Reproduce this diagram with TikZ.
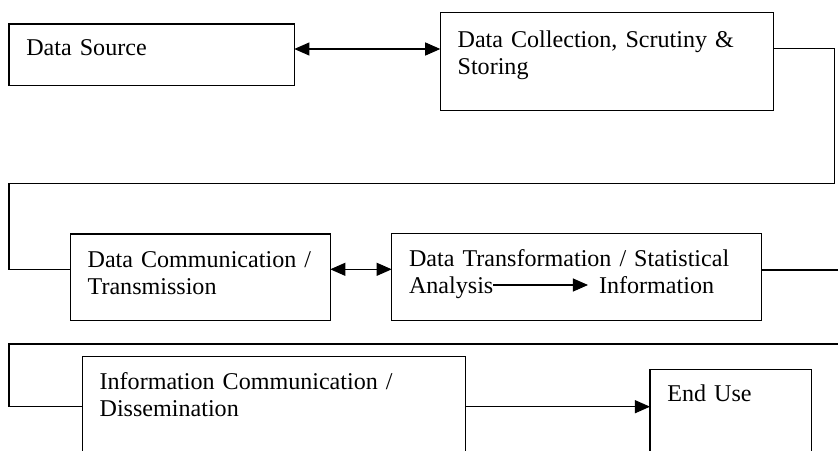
\documentclass[tikz,border=0pt]{standalone}
\usepackage{fontspec}
\setmainfont{Liberation Serif}
\usepackage{tikz}
\usetikzlibrary{arrows.meta}

\tikzset{
  blk/.style={draw, line width=0.5pt, anchor=north west, align=left,
              inner xsep=8.5pt, inner ysep=0pt, outer sep=0pt},
  wire/.style={line width=0.5pt},
}

\begin{document}
\begin{tikzpicture}[x=0.49pt, y=-0.49pt, font=\fontsize{11.8}{13.2}\selectfont,
                    >={Triangle[length=7.4pt, width=6.4pt]}]
  \path[use as bounding box, clip] (0,0) rectangle (838,450);

  % first row
  \node[blk, text width=122.8pt, text height=15.3pt, text depth=14.9pt]
    (src) at (9,24) {Data Source};
  \node[blk, text width=146.5pt, text height=17.4pt, text depth=30.8pt]
    (coll) at (440.3,12.3) {\mbox{Data Collection, Scrutiny \&}\\ Storing};

  % second row
  \node[blk, text width=110.4pt, text height=16.3pt, text depth=25.9pt]
    (comm) at (70.3,234) {\mbox{Data Communication /}\\ Transmission};
  \node[blk, text width=164.3pt, text height=16.1pt, text depth=26.4pt]
    (trans) at (391.7,233.3)
    {\mbox{Data Transformation / Statistical}\\
     \makebox[93.1pt][l]{Analysis}Information};

  % third row, runs off the bottom
  \node[blk, text width=171pt, text height=16.1pt, text depth=44.3pt]
    (diss) at (82.3,356.7) {\mbox{Information Communication /}\\ Dissemination};
  \node[blk, text width=61.9pt, text height=15.6pt, text depth=38.6pt]
    (use) at (650,369.3) {End Use};

  \coordinate (rimA) at (845,270);
  \coordinate (rimB) at (845,344);

  % links
  \draw[wire, <->] (src.east |- 0,49) -- (coll.west |- 0,49);
  \draw[wire] (coll.east |- 0,48.7) -| (834.3,183.3) -| (9,269.3)
    -- (comm.west |- 0,269.3);
  \draw[wire, <->] (comm.east |- 0,269.3) -- (trans.west |- 0,269.3);
  \draw[wire, ->] ([shift={(101.3,51.7)}]trans.north west) -- ++(95,0);
  \draw[wire] (trans.east |- rimA) -- (rimA);
  \draw[wire] (rimB) -| (9,406.7) -- (diss.west |- 0,406.7);
  \draw[wire, ->] (diss.east |- 0,406.7) -- (use.west |- 0,406.7);
\end{tikzpicture}
\end{document}
